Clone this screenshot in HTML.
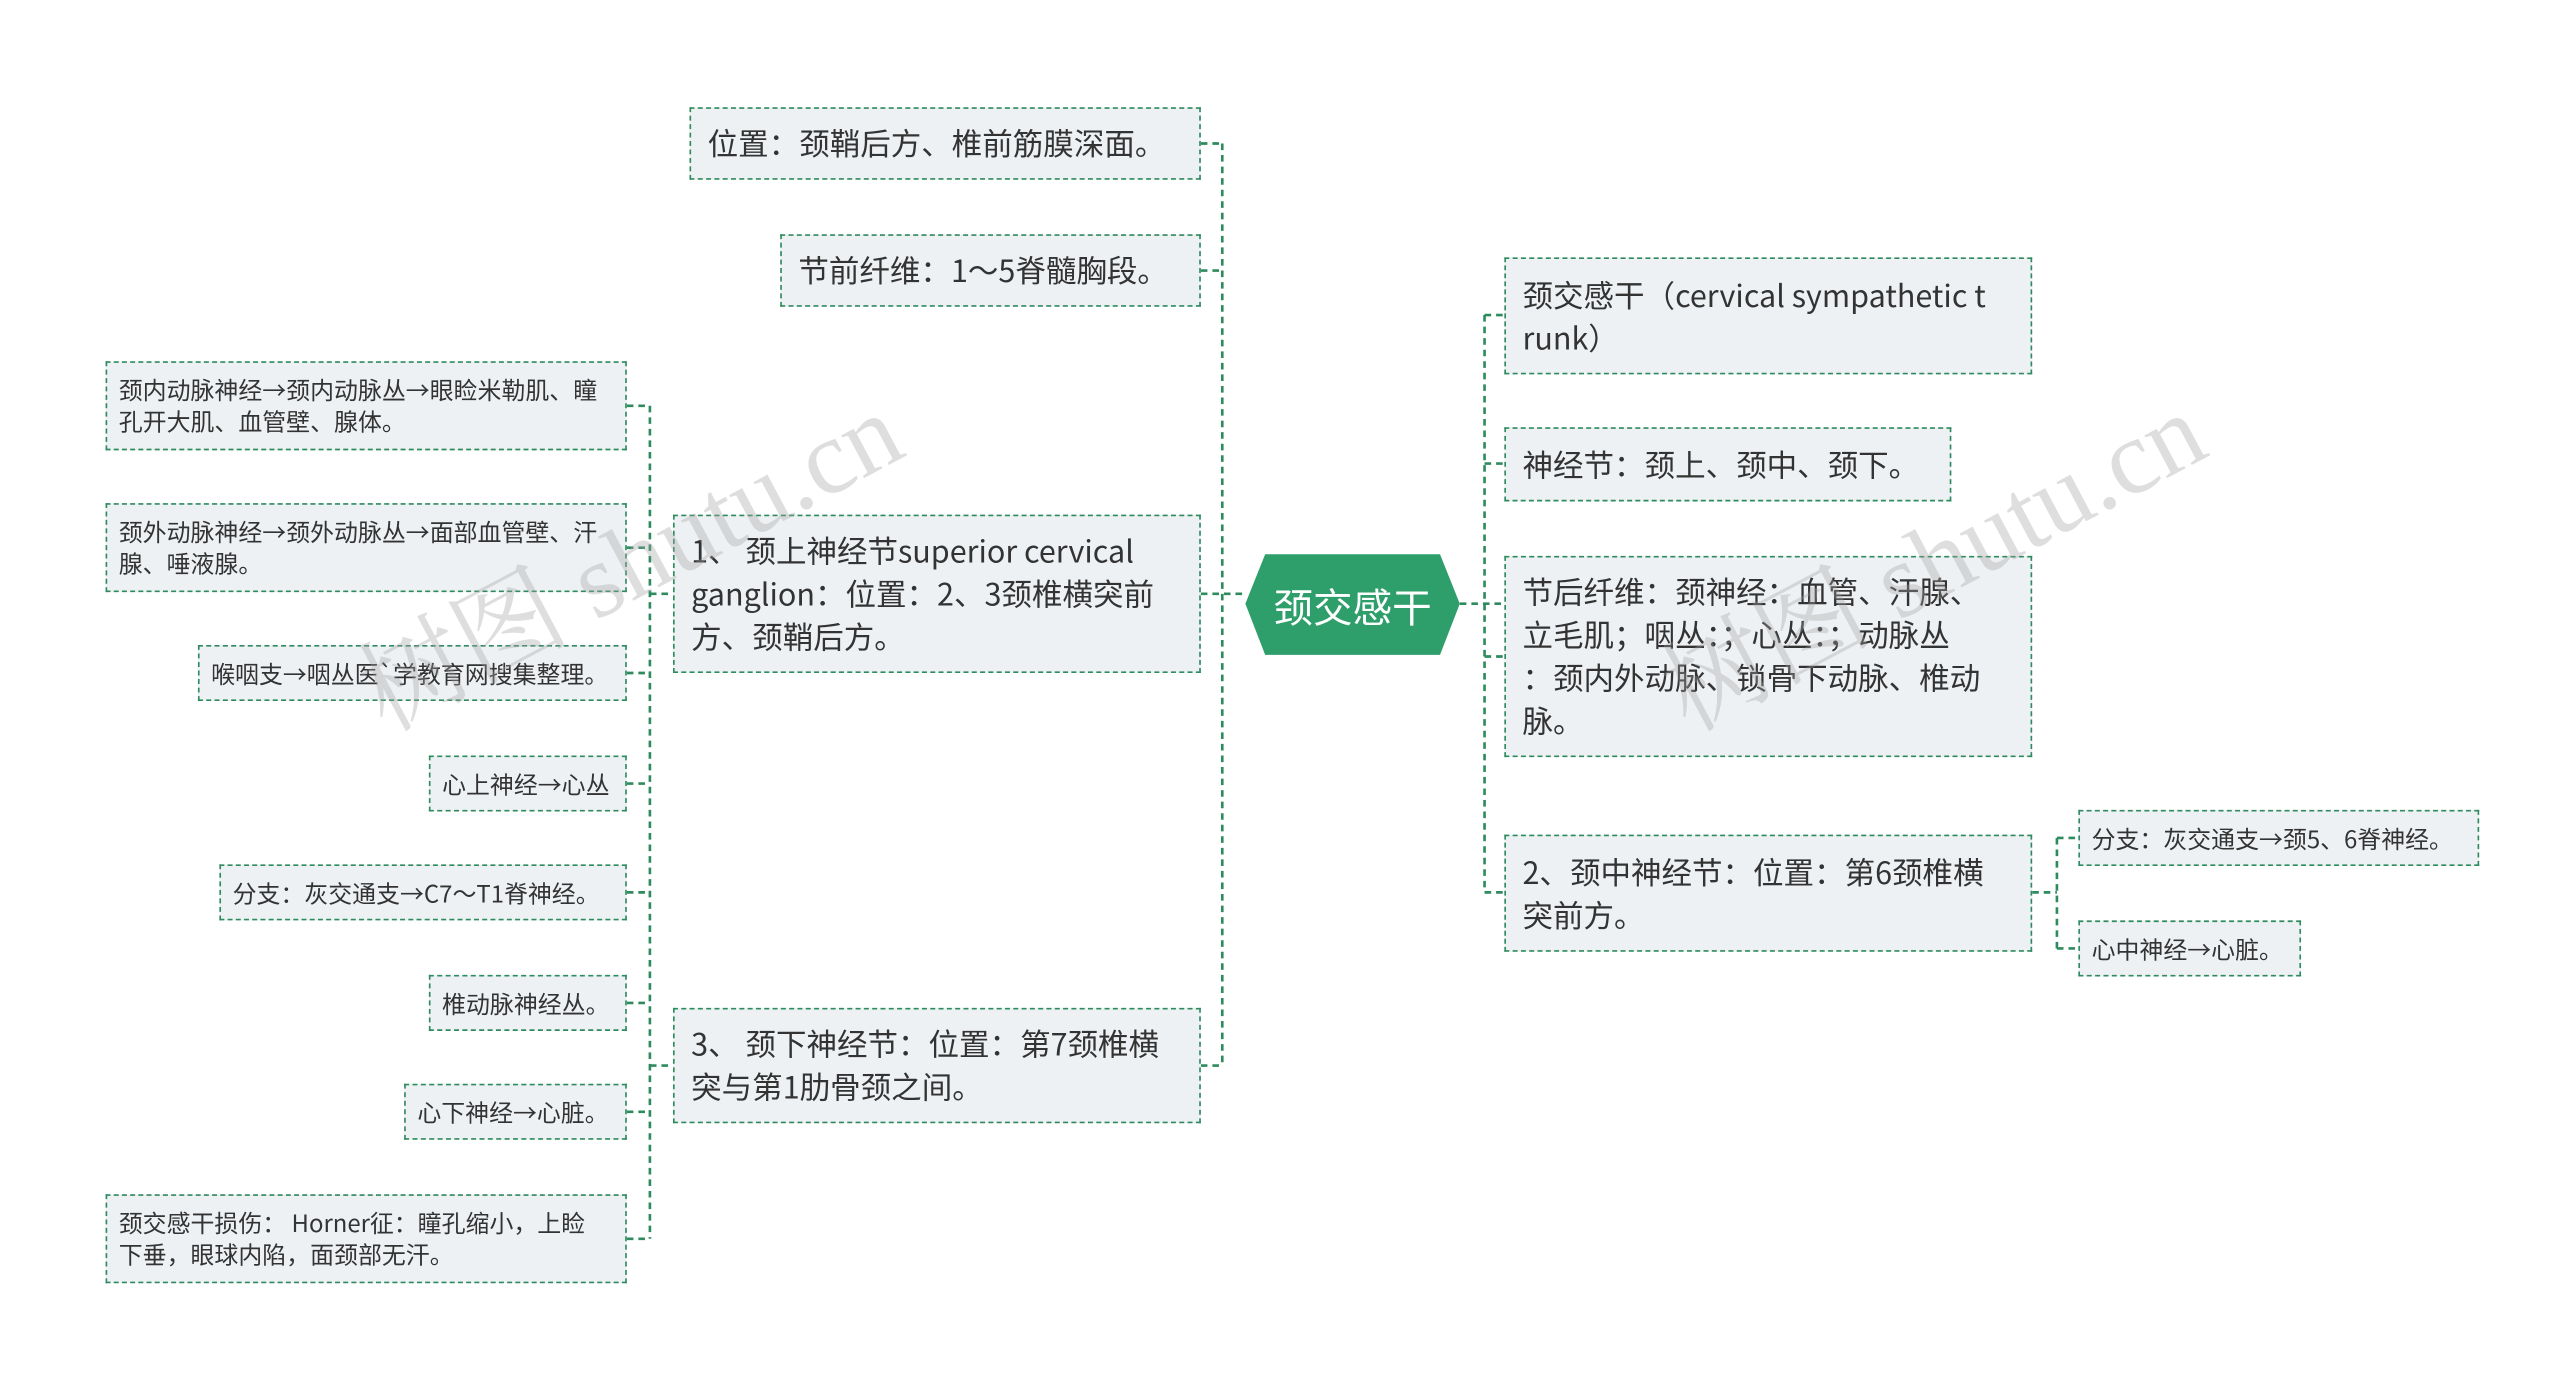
<!DOCTYPE html>
<html><head><meta charset="utf-8"><style>
html,body{margin:0;padding:0;background:#fff;width:2560px;height:1374px;overflow:hidden}
#w{position:absolute;left:0;top:0;width:1552px;height:833px;transform:scale(1.6495);transform-origin:0 0;font-family:"Noto Sans CJK SC","Liberation Sans",sans-serif;color:#333}
.b{position:absolute;box-sizing:border-box;background:#eef1f4;border:1.5px dashed #2e8b5e;padding:0 10px;display:flex;align-items:center;line-height:26px;font-size:18.5px;word-break:break-all}
.s{font-size:14.5px;line-height:19px;padding:0 7px}
svg{position:absolute;left:0;top:0}
.wm{position:absolute;font-family:"Liberation Serif","Noto Serif CJK SC",serif;font-size:64px;color:rgba(160,160,160,0.35);transform:rotate(-28deg);white-space:nowrap}
</style></head><body><div id="w">
<svg width="1552" height="833"><g fill="none" stroke="#2e8b5e" stroke-width="1.6" stroke-dasharray="4,3">
<path d="M741 87V646M728 87H741M728 164H741M728 360H755M728 646H741"/>
<path d="M394 246V751M380 246H394M380 332H394M380 408H394M380 475H394M394 360H408M380 541H394M380 608H394M380 674H394M380 751H394M394 646H408"/>
<path d="M900 191V541M885 366H912M900 191H912M900 281H912M900 398H912M900 541H912"/>
<path d="M1247 508V575M1232 541H1247M1247 508H1260M1247 575H1260"/>
</g>
<polygon points="767,336 873,336 885,366 873,397 767,397 755,366" fill="#2e9e6a"/>
</svg>
<div style="position:absolute;left:755px;top:336px;width:130px;height:61px;display:flex;align-items:center;justify-content:center;color:#fff;font-size:24px">颈交感干</div>
<div class="b" style="left:418px;top:65px;width:310px;height:44px">位置：颈鞘后方、椎前筋膜深面。</div>
<div class="b" style="left:473px;top:142px;width:255px;height:44px">节前纤维：1～5脊髓胸段。</div>
<div class="b" style="left:408px;top:312px;width:320px;height:96px">1、 颈上神经节superior cervical<br>ganglion：位置：2、3颈椎横突前<br>方、颈鞘后方。</div>
<div class="b" style="left:408px;top:611px;width:320px;height:70px">3、 颈下神经节：位置：第7颈椎横<br>突与第1肋骨颈之间。</div>
<div class="b" style="left:912px;top:156px;width:320px;height:71px">颈交感干（cervical sympathetic t<br>runk）</div>
<div class="b" style="left:912px;top:259px;width:271px;height:45px">神经节：颈上、颈中、颈下。</div>
<div class="b" style="left:912px;top:337px;width:320px;height:122px">节后纤维：颈神经：血管、汗腺、<br>立毛肌；咽丛：；心丛：；动脉丛<br>：颈内外动脉、锁骨下动脉、椎动<br>脉。</div>
<div class="b" style="left:912px;top:506px;width:320px;height:71px">2、颈中神经节：位置：第6颈椎横<br>突前方。</div>
<div class="b s" style="left:1260px;top:491px;width:243px;height:34px">分支：灰交通支→颈5、6脊神经。</div>
<div class="b s" style="left:1260px;top:558px;width:135px;height:34px">心中神经→心脏。</div>
<div class="b s" style="left:64px;top:219px;width:316px;height:54px">颈内动脉神经→颈内动脉丛→眼睑米勒肌、瞳<br>孔开大肌、血管壁、腺体。</div>
<div class="b s" style="left:64px;top:305px;width:316px;height:54px">颈外动脉神经→颈外动脉丛→面部血管壁、汗<br>腺、唾液腺。</div>
<div class="b s" style="left:120px;top:391px;width:260px;height:34px">喉咽支→咽丛医`学教育网搜集整理。</div>
<div class="b s" style="left:260px;top:458px;width:120px;height:34px">心上神经→心丛</div>
<div class="b s" style="left:133px;top:524px;width:247px;height:34px">分支：灰交通支→C7～T1脊神经。</div>
<div class="b s" style="left:260px;top:591px;width:120px;height:34px">椎动脉神经丛。</div>
<div class="b s" style="left:245px;top:657px;width:135px;height:34px">心下神经→心脏。</div>
<div class="b s" style="left:64px;top:724px;width:316px;height:54px">颈交感干损伤： Horner征：瞳孔缩小，上睑<br>下垂，眼球内陷，面颈部无汗。</div>
<div class="wm" style="left:200px;top:290px">树图 shutu.cn</div>
<div class="wm" style="left:990px;top:290px">树图 shutu.cn</div>
</div></body></html>
